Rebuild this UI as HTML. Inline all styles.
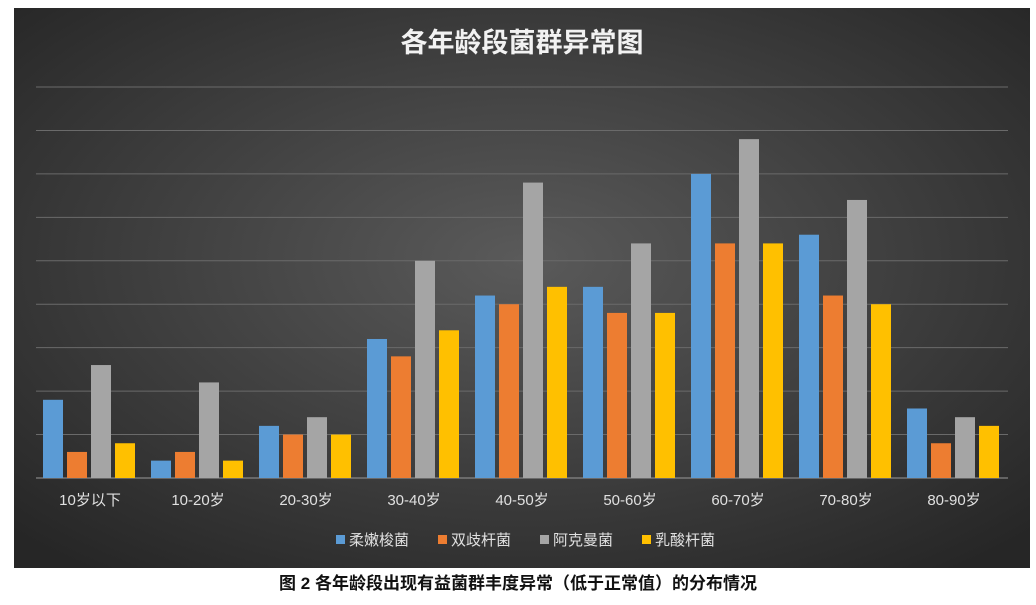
<!DOCTYPE html>
<html><head><meta charset="utf-8"><style>
body{margin:0;width:1036px;height:600px;background:#fff;overflow:hidden;font-family:"Liberation Sans","Noto Sans CJK SC",sans-serif}
</style></head><body>
<svg id="c" width="1036" height="600" xmlns="http://www.w3.org/2000/svg">
<defs><radialGradient id="bg" cx="50%" cy="45%" r="70%"><stop offset="0" stop-color="#5a5a5a"/><stop offset="1" stop-color="#262626"/></radialGradient></defs>
<rect x="14" y="8" width="1016" height="560" fill="url(#bg)"/>
<text x="522" y="52" fill="#f2f2f2" font-size="27" font-weight="bold" text-anchor="middle">各年龄段菌群异常图</text>
<g id="grid"></g><g id="bars"></g><g id="xl"></g><g id="lg"></g>
<text x="518" y="589" fill="#111" font-size="17" font-weight="bold" text-anchor="middle">图 2 各年龄段出现有益菌群丰度异常（低于正常值）的分布情况</text>
</svg>
<script>
const categories=["10岁以下","10-20岁","20-30岁","30-40岁","40-50岁","50-60岁","60-70岁","70-80岁","80-90岁"];
const seriesNames=["柔嫩梭菌","双歧杆菌","阿克曼菌","乳酸杆菌"];
const s1=[9,2,6,16,21,22,35,28,8];
const s2=[3,3,5,14,20,19,27,21,4];
const s3=[13,11,7,25,34,27,39,32,7];
const s4=[4,2,5,17,22,19,27,20,6];
const colors=["#5b9bd5","#ed7d31","#a5a5a5","#ffc000"];
const NS="http://www.w3.org/2000/svg";
const x0=36,x1=1008,yb=478,ymax=45,yt=87;
const y=v=>yb-v/ymax*(yb-yt);
const bw=(x1-x0)/categories.length;
function mk(t,a,p){const e=document.createElementNS(NS,t);for(const k in a)e.setAttribute(k,a[k]);p.appendChild(e);return e;}
const g=document.getElementById('grid');
for(let v=5;v<=ymax;v+=5){const l=mk('line',{x1:x0,x2:x1,y1:y(v),y2:y(v),stroke:'#6a6a6a','stroke-width':1},g);

}
const ax=mk('line',{x1:x0,x2:x1,y1:yb,y2:yb,stroke:'#999','stroke-width':1},g);


const series=[s1,s2,s3,s4];
const b=document.getElementById('bars');
categories.forEach((c,i)=>{
 const cx=x0+bw*(i+0.5);
 series.forEach((s,j)=>{
  const bx=cx-47+j*24;
  const r=mk('rect',{x:bx,y:y(s[j===j?i:i]),width:20,height:yb-y(s[i]),fill:colors[j]},b);
  
  
 });
 const t=mk('text',{x:cx,y:505,fill:'#e0e0e0','font-size':15,'text-anchor':'middle'},document.getElementById('xl'));
 t.textContent=c;
 
 
});
const lg=document.getElementById('lg');
const lx=[336,438,540,642];
seriesNames.forEach((n,j)=>{
 const gg=mk('g',{},lg);
 
 
 mk('rect',{x:lx[j],y:535,width:9,height:9,fill:colors[j]},gg);
 const t=mk('text',{x:lx[j]+13,y:545,fill:'#e0e0e0','font-size':15},gg);
 t.textContent=n;
});
</script>
</body></html>
